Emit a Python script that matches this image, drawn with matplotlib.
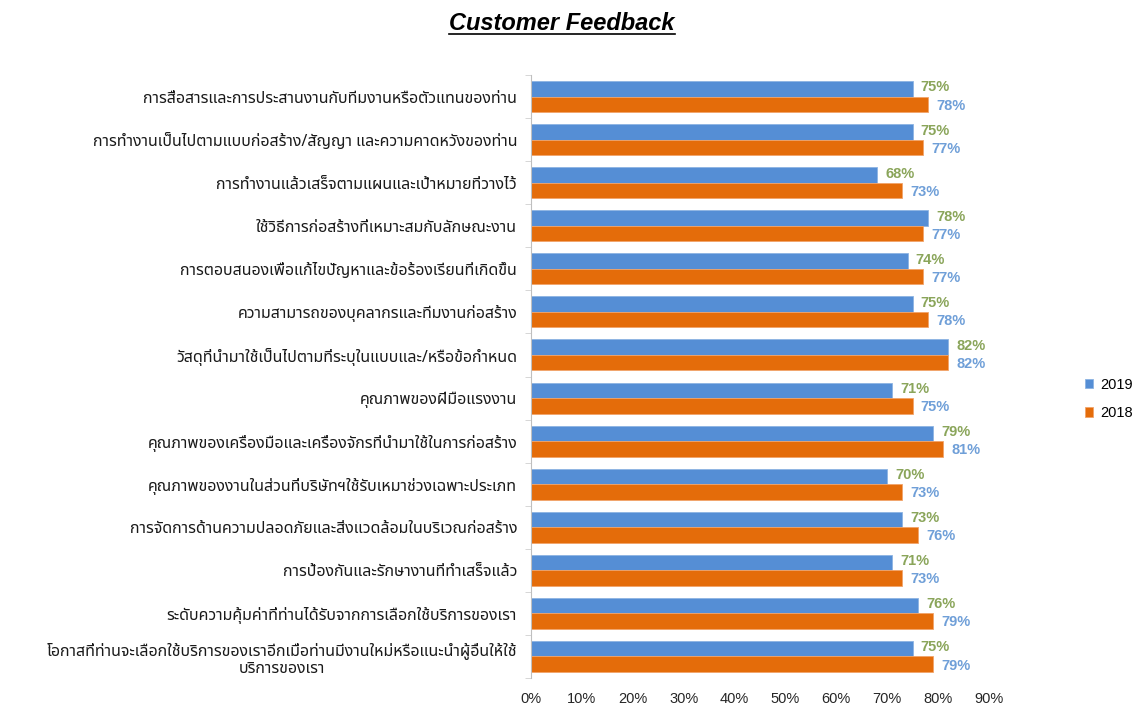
# Customer feedback horizontal bar chart (2019 vs 2018)
import numpy as np
import matplotlib
matplotlib.use('Agg')
import matplotlib.pyplot as plt
from matplotlib import font_manager
from matplotlib.ft2font import FT2Font
from matplotlib.lines import Line2D

categories = [
    'การสื่อสารและการประสานงานกับทีมงานหรือตัวแทนของท่าน',
    'การทำงานเป็นไปตามแบบก่อสร้าง/สัญญา และความคาดหวังของท่าน',
    'การทำงานแล้วเสร็จตามแผนและเป้าหมายที่วางไว้',
    'ใช้วิธีการก่อสร้างที่เหมาะสมกับลักษณะงาน',
    'การตอบสนองเพื่อแก้ไขปัญหาและข้อร้องเรียนที่เกิดขึ้น',
    'ความสามารถของบุคลากรและทีมงานก่อสร้าง',
    'วัสดุที่นำมาใช้เป็นไปตามที่ระบุในแบบและ/หรือข้อกำหนด',
    'คุณภาพของฝีมือแรงงาน',
    'คุณภาพของเครื่องมือและเครื่องจักรที่นำมาใช้ในการก่อสร้าง',
    'คุณภาพของงานในส่วนที่บริษัทฯใช้รับเหมาช่วงเฉพาะประเภท',
    'การจัดการด้านความปลอดภัยและสิ่งแวดล้อมในบริเวณก่อสร้าง',
    'การป้องกันและรักษางานที่ทำเสร็จแล้ว',
    'ระดับความคุ้มค่าที่ท่านได้รับจากการเลือกใช้บริการของเรา',
    'โอกาสที่ท่านจะเลือกใช้บริการของเราอีกเมื่อท่านมีงานใหม่หรือแนะนำผู้อื่นให้ใช้\nบริการของเรา',
]
y2019 = [75, 75, 68, 78, 74, 75, 82, 71, 79, 70, 73, 71, 76, 75]
y2018 = [78, 77, 73, 77, 77, 78, 82, 75, 81, 73, 76, 73, 79, 79]
xticks = [0, 10, 20, 30, 40, 50, 60, 70, 80, 90]


# find an installed font that has Thai glyphs
def thai_font():
    for name in ['Tahoma', 'Noto Sans Thai', 'Loma', 'Garuda', 'Waree', 'Norasi']:
        for f in font_manager.fontManager.ttflist:
            if f.name == name:
                return name
    for f in font_manager.fontManager.ttflist:
        try:
            if 0x0E01 in FT2Font(f.fname).get_charmap():
                return f.name
        except Exception:
            pass
    return None

tf = thai_font()
fams = ([tf] if tf else []) + ['DejaVu Sans']
plt.rcParams['font.family'] = fams

blue = '#558ED5'
orange = '#E46C0A'

fig = plt.figure(figsize=(11.34, 7.07), dpi=100)
ax = fig.add_axes([531 / 1134, 1 - 678 / 707, (989 - 531) / 1134, (678 - 75) / 707])

y = np.arange(len(categories))
h = 0.36
ax.barh(y - h / 2, y2019, h, color=blue, edgecolor='#8DB4E2', linewidth=0.6, label='2019')
ax.barh(y + h / 2, y2018, h, color=orange, edgecolor='#F2A46A', linewidth=0.6, label='2018')

for i in range(len(categories)):
    ax.text(y2019[i] + 1.6, y[i] - h / 2 - 0.03, '%d%%' % y2019[i], va='center', ha='left',
            fontsize=10.5, fontweight='semibold', color='#8AA55A', family=['Liberation Sans'])
    ax.text(y2018[i] + 1.6, y[i] + h / 2 + 0.03, '%d%%' % y2018[i], va='center', ha='left',
            fontsize=10.5, fontweight='semibold', color='#6F9FD8', family=['Liberation Sans'])

ax.set_ylim(len(categories) - 0.5, -0.5)
ax.set_xlim(0, 90)
ax.set_yticks(y)
ax.set_yticklabels(categories, fontsize=11.5, color='#1a1a1a', ha='right', multialignment='center')
ax.set_yticks(np.arange(len(categories) + 1) - 0.5, minor=True)
ax.tick_params(axis='y', which='major', length=0, pad=10)
ax.tick_params(axis='y', which='minor', length=4, color='#D0D0D0')
ax.set_xticks(xticks)
ax.set_xticklabels(['%d%%' % v for v in xticks], fontsize=10.5, family=['Liberation Sans'], color='#262626')
ax.tick_params(axis='x', length=0, pad=10)

for s in ['top', 'right', 'bottom']:
    ax.spines[s].set_visible(False)
ax.spines['left'].set_color('#BFBFBF')

ax.legend(loc='center left', bbox_to_anchor=(1.18, 0.463), frameon=False,
          handlelength=0.6, handleheight=0.6, labelspacing=1.0, handletextpad=0.5,
          prop={'family': 'Liberation Sans', 'size': 10.5})

title = fig.text(562 / 1134, 1 - 24 / 707, 'Customer Feedback', ha='center', va='center',
                 fontsize=17, fontweight='bold', fontstyle='italic', family=['Liberation Sans'])
fig.canvas.draw()
bb = title.get_window_extent().transformed(fig.transFigure.inverted())
fig.add_artist(Line2D([bb.x0, bb.x1], [bb.y0 + 0.002, bb.y0 + 0.002], transform=fig.transFigure,
                      color='black', linewidth=1.2))

fig.savefig('out.png', dpi=100)
